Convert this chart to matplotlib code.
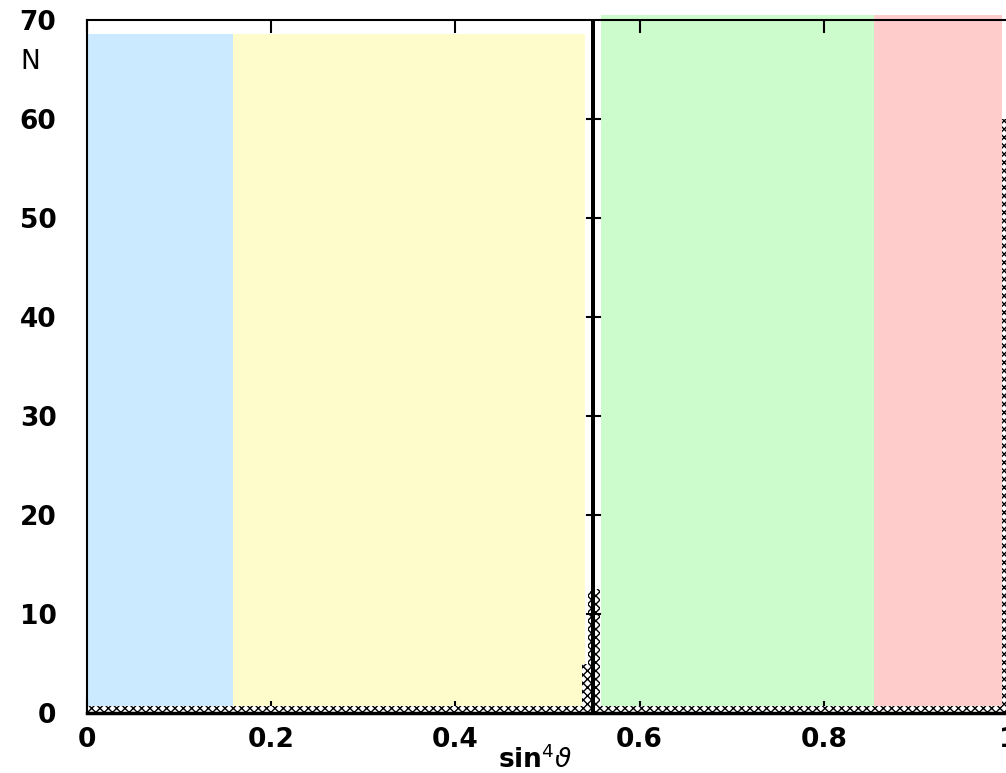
import numpy as np
import matplotlib.pyplot as plt

# sin^4(theta) intervals shaded as regions
region_lo = [0.0, 0.159, 0.558, 0.854]
region_hi = [0.159, 0.541, 0.854, 0.994]
region_top = [68.6, 68.6, 70.5, 70.5]
region_col = ['#cceaff', '#fffccc', '#ccfccc', '#ffcccc']

# event counts per bin (bin edges / heights)
bin_edges = [0.0, 0.538, 0.5445, 0.5475, 0.5515, 0.5575, 0.994, 1.0]
bin_counts = [0.7, 5.0, 12.3, 75.0, 12.5, 0.7, 60.0]

yticks = [0, 10, 20, 30, 40, 50, 60, 70]
xticks = [0, 0.2, 0.4, 0.6, 0.8, 1.0]
xtick_labels = ['0', '0.2', '0.4', '0.6', '0.8', '1']

fig = plt.figure(figsize=(10.06, 7.73), dpi=100)
ax = fig.add_axes([87 / 1006, (773 - 713) / 773, (1008 - 87) / 1006, (713 - 20) / 773])
ax.set_xlim(0, 1)
ax.set_ylim(0, 70)

for lo, hi, top, c in zip(region_lo, region_hi, region_top, region_col):
    ax.fill_between([lo, hi], 0, top, color=c, lw=0, zorder=1, clip_on=False)

edges = np.array(bin_edges)
widths = np.diff(edges)
for left, w, n in zip(edges[:-1], widths, bin_counts):
    if n > 70:
        ax.bar(left, n, width=w, align='edge', color='black', lw=0, zorder=3)
    else:
        ax.bar(left, n, width=w, align='edge', facecolor='white', edgecolor='black',
               hatch='xxxx', lw=0, zorder=2)

# inner ticks on the spike line
spike_x = edges[3] + widths[3] / 2
for yv in yticks[1:-1]:
    ax.plot([spike_x - 0.007, spike_x + 0.007], [yv, yv], color='black', lw=1.5, zorder=4)

ax.set_xticks(xticks)
ax.set_xticklabels(xtick_labels)
ax.set_yticks(yticks)
ax.tick_params(axis='both', labelsize=19, length=0, width=0)
ax.tick_params(axis='x', pad=10, top=True, direction='in', length=9, width=1.5, colors='black')
ax.tick_params(axis='y', pad=22)
for lab in ax.get_xticklabels() + ax.get_yticklabels():
    lab.set_fontweight('bold')

for s in ['left', 'top']:
    ax.spines[s].set_linewidth(1.5)
ax.spines['bottom'].set_linewidth(2.5)
ax.spines['right'].set_visible(False)

fig.text(30 / 1006, 1 - 62 / 773, 'N', fontsize=19, ha='center', va='center')
fig.text(535 / 1006, 1 - 760 / 773, r'sin$^4\vartheta$', fontsize=19, fontweight='bold',
         ha='center', va='center')

fig.savefig('out.png', dpi=100)
